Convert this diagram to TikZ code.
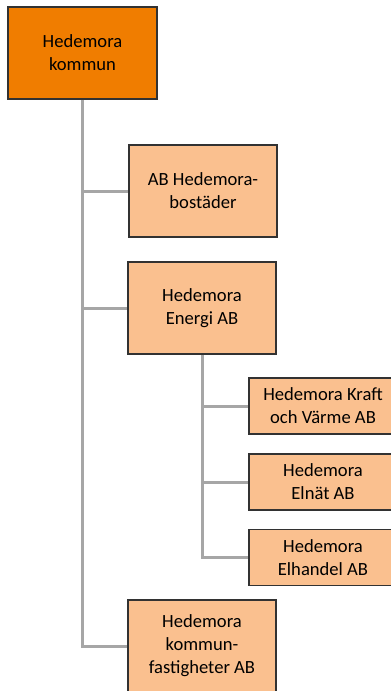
\documentclass[tikz,border=0pt]{standalone}
\usepackage{fontspec}
\setmainfont{Carlito}
\usetikzlibrary{positioning}

\definecolor{topcol}{RGB}{240,125,0}
\definecolor{subcol}{RGB}{250,192,143}
\definecolor{linkcol}{RGB}{166,166,166}
\definecolor{edgecol}{RGB}{50,50,50}

\begin{document}
\begin{tikzpicture}[
    x = 1pt, y = -1pt,
    owner/.style = {shape = rectangle, draw = edgecol, fill = topcol, line width = 1.5pt, minimum width = 149pt, minimum height = 92pt, align = center, inner sep = 2pt, font = \fontsize{18.6}{23}\selectfont},
    company/.style = {shape = rectangle, draw = edgecol, fill = subcol, line width = 1.5pt, minimum width = 148pt, minimum height = 92pt, align = center, inner sep = 2pt, font = \fontsize{18.6}{23}\selectfont},
    subco/.style = {company, minimum height = 56pt},
    link/.style = {draw = linkcol, line width = 3pt},
    ]
    \useasboundingbox (0, 0) rectangle (391, 691);

    \node[owner] (kommun) at (82.5, 53) {Hedemora\\kommun};

    \node[company] (bostader) at (203, 191) {AB Hedemora-\\bostäder};
    \node[company] (energi) at (202, 308) {Hedemora\\Energi AB};

    \node[subco] (kraft) at (323, 406) {Hedemora Kraft\\och Värme AB};
    \node[subco] (elnat) at (323, 482) {Hedemora\\Elnät AB};
    \node[subco] (elhandel) at (323, 557.5) {Hedemora\\Elhandel AB};

    \node[company] (fastigheter) at (202, 646) {Hedemora\\kommun-\\fastigheter AB};

    \path[link] (kommun.south) |- (fastigheter.west);
    \path[link] (kommun.south |- bostader.west) -- (bostader.west);
    \path[link] (kommun.south |- energi.west) -- (energi.west);

    \path[link] (energi.south) |- (elhandel.west);
    \path[link] (energi.south |- kraft.west) -- (kraft.west);
    \path[link] (energi.south |- elnat.west) -- (elnat.west);
\end{tikzpicture}
\end{document}
